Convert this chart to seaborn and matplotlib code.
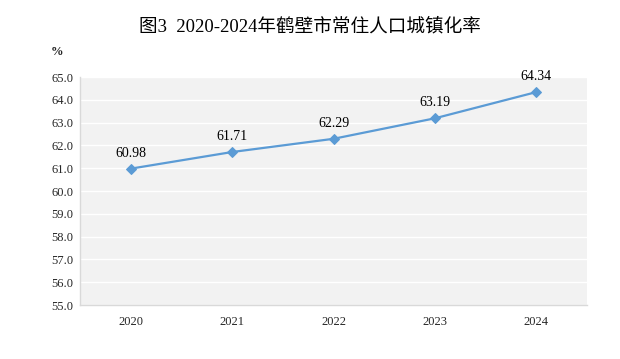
import matplotlib
matplotlib.use("Agg")
import matplotlib.pyplot as plt
import seaborn as sns
import pandas as pd
import numpy as np

years = ["2020", "2021", "2022", "2023", "2024"]
rates = [60.98, 61.71, 62.29, 63.19, 64.34]
yticks = [55.0, 56.0, 57.0, 58.0, 59.0, 60.0, 61.0, 62.0, 63.0, 64.0, 65.0]

sns.set_theme(style="white")
plt.rcParams['font.family'] = ['Liberation Serif', 'Noto Sans CJK SC']

df = pd.DataFrame({"idx": np.arange(len(years)), "year": years, "rate": rates})

fig = plt.figure(figsize=(6.2, 3.59), dpi=100)
ax = fig.add_axes([0.129, 0.1504, 0.818, 0.6351])
ax.set_facecolor("#f2f2f2")

sns.lineplot(data=df, x="idx", y="rate", ax=ax, color="#5b9bd5", linewidth=1.6,
             marker="D", markersize=5, markeredgecolor="#5b9bd5", zorder=3)

for i, v in zip(df["idx"], df["rate"]):
    ax.annotate(f"{v:.2f}", (i, v), xytext=(0, 6.5), textcoords="offset points",
                ha="center", va="bottom", fontsize=10, color="#000000")

ax.set_xlim(-0.5, len(years) - 0.5)
ax.set_ylim(55, 65)
ax.set_yticks(yticks)
ax.set_yticklabels([f"{t:.1f}" for t in yticks], fontsize=9)
ax.set_xticks(df["idx"])
ax.set_xticklabels(years, fontsize=9)
ax.set_xticks(np.arange(-0.5, len(years), 1.0), minor=True)
ax.tick_params(axis="x", which="major", length=0, pad=8)
ax.tick_params(axis="x", which="minor", length=4, direction="in", color="#d9d9d9", width=1)
ax.tick_params(axis="y", length=0, pad=5)
ax.yaxis.grid(True, color="white", linewidth=1.0)
ax.set_axisbelow(True)
for s in ["top", "right"]:
    ax.spines[s].set_visible(False)
for s in ["left", "bottom"]:
    ax.spines[s].set_color("#d9d9d9")
    ax.spines[s].set_linewidth(1)
ax.set_xlabel("")
ax.set_ylabel("")

fig.text(0.5, 0.925, "图3  2020-2024年鹤壁市常住人口城镇化率", ha="center", va="center",
         fontsize=13.4, color="#000000")
fig.text(0.092, 0.855, "%", ha="center", va="center", fontsize=9, fontweight="bold")

fig.savefig("out.png", dpi=100)
